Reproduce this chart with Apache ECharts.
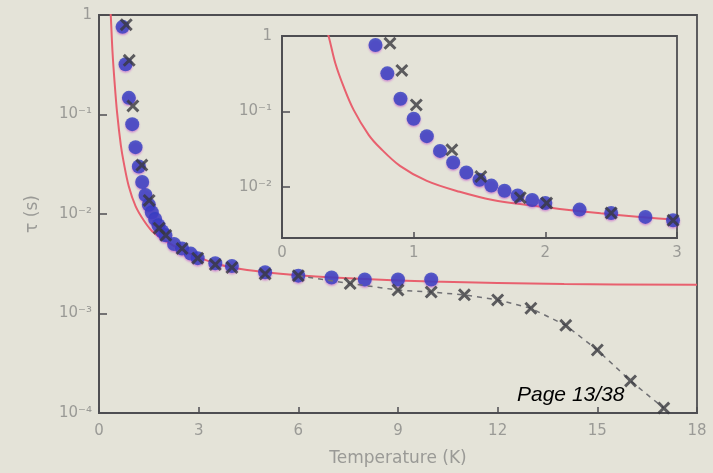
<!DOCTYPE html>
<html>
<head>
<meta charset="utf-8">
<script src="https://cdn.jsdelivr.net/npm/echarts@6/dist/echarts.min.js"></script>
<style>
  html, body { margin: 0; padding: 0; background: #e4e3d8; }
  #chart { width: 713px; height: 473px; }
</style>
</head>
<body>
<div id="chart"></div>
<script>
// Relaxation time tau (s) versus temperature (K)

// Fitted curve (red)
const fitT   = [0.33, 0.355, 0.405, 0.468, 0.544, 0.658, 0.744, 0.896, 1.10, 1.35, 1.60, 1.88, 2.11, 2.42, 2.72, 3.0, 3.5, 4.0, 5.0, 6.0, 8.0, 10.0, 14.0, 18.0];
const fitTau = [1.3, 0.98, 0.435, 0.213, 0.105, 0.049, 0.033, 0.019, 0.0120, 0.0086, 0.0067, 0.0057, 0.0051, 0.00446, 0.0040, 0.00366, 0.0032, 0.0029, 0.0026, 0.00243, 0.00222, 0.0021, 0.00198, 0.00194];

// Measured points (blue circles)
const circT   = [0.71, 0.80, 0.90, 1.00, 1.10, 1.20, 1.30, 1.40, 1.50, 1.59, 1.69, 1.79, 1.90, 2.00, 2.26, 2.50, 2.76, 2.97, 3.5, 4.0, 5.0, 6.0, 7.0, 8.0, 9.0, 10.0];
const circTau = [0.76, 0.32, 0.147, 0.080, 0.047, 0.030, 0.021, 0.0155, 0.0124, 0.0104, 0.0089, 0.0077, 0.0067, 0.0061, 0.0050, 0.0045, 0.0040, 0.0036, 0.0032, 0.0030, 0.0026, 0.0024, 0.0023, 0.0022, 0.0022, 0.0022];

// Measured points (black crosses)
const crossT   = [0.82, 0.91, 1.02, 1.29, 1.51, 1.81, 2.01, 2.50, 2.97, 3.5, 4.0, 5.0, 6.0, 7.56, 9.0, 10.0, 11.0, 12.0, 13.0, 14.05, 15.0, 16.0, 17.0];
const crossTau = [0.80, 0.35, 0.122, 0.031, 0.0137, 0.0072, 0.0061, 0.0045, 0.0036, 0.0031, 0.0029, 0.0025, 0.0024, 0.0020, 0.00172, 0.00164, 0.00154, 0.00137, 0.00113, 0.00076, 0.00043, 0.00021, 0.000112];
// The crosses are joined by a dashed guide from this temperature upward
const crossGuideFrom = 6.0;

// Tick settings
const mainXTicks = { min: 0, max: 18, interval: 3 };
const insetXTicks = { min: 0, max: 3, interval: 1 };
const mainYRange = { min: 1e-4, max: 1 };
const insetYRange = { min: 0.0021, max: 1 };

const pair = (xs, ys) => xs.map((x, i) => [x, ys[i]]);
const fitData = pair(fitT, fitTau);
const circData = pair(circT, circTau);
const crossData = pair(crossT, crossTau);
const crossGuide = crossData.filter(d => d[0] >= crossGuideFrom);

const SUP = { '-': '\u207B', '0': '\u2070', '1': '\u00B9', '2': '\u00B2', '3': '\u00B3', '4': '\u2074', '5': '\u2075' };
function powLabel(v) {
  const e = Math.log10(v);
  const r = Math.round(e);
  if (Math.abs(e - r) > 1e-6) return '';
  if (r === 0) return '1';
  return '10' + String(r).split('').map(c => SUP[c]).join('');
}

const FONT = "'DejaVu Sans', Verdana, sans-serif";
const labelColor = '#9a9a96';
const lineColor = '#4e4e52';
const crossPath = 'path://M1.6,0 L5,3.4 L8.4,0 L10,1.6 L6.6,5 L10,8.4 L8.4,10 L5,6.6 L1.6,10 L0,8.4 L3.4,5 L0,1.6 Z';

function xAxisOpt(gridIndex, ticks, margin, extra) {
  return Object.assign({
    type: 'value', gridIndex,
    min: ticks.min, max: ticks.max, interval: ticks.interval,
    axisLine: { show: true, lineStyle: { color: lineColor, width: 1.8 } },
    axisTick: { show: true, inside: true, length: 6, lineStyle: { color: lineColor, width: 1.5 } },
    axisLabel: { color: labelColor, fontSize: 15, fontFamily: FONT, margin },
    splitLine: { show: false }
  }, extra);
}
function yAxisOpt(gridIndex, range, margin, extra) {
  return Object.assign({
    type: 'log', logBase: 10, gridIndex,
    min: range.min, max: range.max,
    axisLine: { show: true, lineStyle: { color: lineColor, width: 1.8 } },
    axisTick: { show: true, inside: true, length: 8, lineStyle: { color: lineColor, width: 1.5 } },
    axisLabel: { color: labelColor, fontSize: 15, fontFamily: FONT, margin, formatter: powLabel },
    splitLine: { show: false },
    minorTick: { show: false }
  }, extra);
}

function seriesFor(idx, withGuide) {
  const list = [
    {
      type: 'line', xAxisIndex: idx, yAxisIndex: idx, data: fitData,
      smooth: 0.35, symbol: 'none', clip: true, z: 2,
      lineStyle: { color: '#e8606e', width: 2 }
    },
    {
      type: 'scatter', xAxisIndex: idx, yAxisIndex: idx, data: circData,
      symbol: 'circle', symbolSize: 14, clip: true, z: 3,
      itemStyle: { color: '#2f3cc0', shadowColor: 'rgba(190,60,200,0.6)', shadowBlur: 2, shadowOffsetY: 1.5 }
    },
    {
      type: 'scatter', xAxisIndex: idx, yAxisIndex: idx, data: crossData,
      symbol: crossPath, symbolSize: 13, clip: true, z: 5,
      itemStyle: { color: '#38383f' }
    }
  ];
  if (withGuide) {
    list.push({
      type: 'line', xAxisIndex: idx, yAxisIndex: idx, data: crossGuide,
      symbol: 'none', clip: true, z: 4,
      lineStyle: { color: '#707074', width: 1.5, type: [5, 5] }
    });
  }
  return list;
}

const chart = echarts.init(document.getElementById('chart'), null, { renderer: 'canvas' });
chart.setOption({
  backgroundColor: '#e4e3d8',
  animation: false,
  grid: [
    { left: 99, top: 15, right: 16, bottom: 60, show: true, borderColor: lineColor, borderWidth: 1.8 },
    { left: 282, top: 36, width: 395, height: 202, show: true, borderColor: lineColor, borderWidth: 1.8 }
  ],
  xAxis: [
    xAxisOpt(0, mainXTicks, 11, {
      name: 'Temperature (K)', nameLocation: 'middle', nameGap: 37,
      nameTextStyle: { color: labelColor, fontSize: 17, fontFamily: FONT }
    }),
    xAxisOpt(1, insetXTicks, 8)
  ],
  yAxis: [
    yAxisOpt(0, mainYRange, 7, {
      name: '\u03C4 (s)', nameLocation: 'middle', nameGap: 58, nameRotate: 90,
      nameTextStyle: { color: labelColor, fontSize: 17, fontFamily: FONT }
    }),
    yAxisOpt(1, insetYRange, 10, { splitNumber: 3 })
  ],
  series: seriesFor(0, true).concat(seriesFor(1, false)),
  graphic: [
    {
      type: 'text', left: 517, top: 385, z: 100,
      style: { text: 'Page 13/38', fill: '#000', font: "italic 21px 'Liberation Sans', Arial, sans-serif" }
    }
  ]
});
</script>
</body>
</html>
